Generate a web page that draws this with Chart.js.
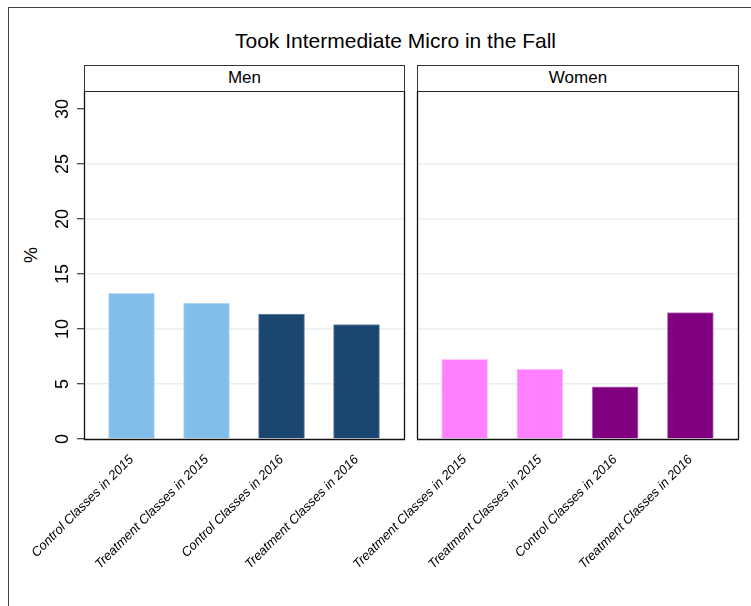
<!DOCTYPE html>
<html>
<head>
<meta charset="utf-8">
<script src="https://cdn.jsdelivr.net/npm/chart.js@4.4.1/dist/chart.umd.min.js"></script>
<style>
  html, body { margin: 0; padding: 0; background: #fff; }
  body { width: 751px; height: 606px; position: relative; overflow: hidden; font-family: "Liberation Sans", Arial, sans-serif; }
  #frame { position: absolute; left: 8px; top: 7px; width: 800px; height: 700px; border-left: 1px solid #444; border-top: 1px solid #444; }
  #title { position: absolute; left: 95px; width: 601px; top: 28px; text-align: center; font-size: 21px; color: #000; line-height: 26px; }
  .hdr { position: absolute; top: 65px; height: 25px; border: 1px solid #333; border-bottom: none; text-align: center; font-size: 17px; line-height: 23px; color: #000; box-sizing: content-box; }
  #ylab { position: absolute; left: 21px; top: 245px; width: 20px; height: 20px; font-size: 18px; line-height: 20px; text-align: center; transform: rotate(-90deg); color: #000; }
  canvas { position: absolute; }
</style>
</head>
<body>
<div id="frame"></div>
<div id="title">Took Intermediate Micro in the Fall</div>
<div class="hdr" id="hMen" style="left:84px; width:319px;">Men</div>
<div class="hdr" id="hWomen" style="left:417px; width:320px;">Women</div>
<div id="ylab">%</div>
<div style="position:absolute;left:84px;top:91px;width:321px;height:1px;background:#222"></div>
<div style="position:absolute;left:417px;top:91px;width:322px;height:1px;background:#222"></div>
<canvas id="cMen" width="406" height="515" style="left:0px; top:91px; width:406px; height:515px;"></canvas>
<canvas id="cWomen" width="451" height="515" style="left:300px; top:91px; width:451px; height:515px;"></canvas>
<script>
// ---- data ----
const titleText = "Took Intermediate Micro in the Fall";
const panelNames = ["Men", "Women"];
const menCategories = ["Control Classes in 2015", "Treatment Classes in 2015", "Control Classes in 2016", "Treatment Classes in 2016"];
const womenCategories = ["Treatment Classes in 2015", "Treatment Classes in 2015", "Control Classes in 2016", "Treatment Classes in 2016"];
const menValues = [13.25, 12.35, 11.35, 10.4];
const womenValues = [7.25, 6.35, 4.75, 11.5];
const yTicks = [0, 5, 10, 15, 20, 25, 30];
const menColors = ["rgb(130,190,234)", "rgb(130,190,234)", "rgb(27,70,112)", "rgb(27,70,112)"];
const menBorders = ["rgb(190,222,245)", "rgb(190,222,245)", "rgb(110,140,170)", "rgb(110,140,170)"];
const womenColors = ["rgb(255,128,255)", "rgb(255,128,255)", "rgb(128,0,128)", "rgb(128,0,128)"];
const womenBorders = ["rgb(255,200,255)", "rgb(255,200,255)", "rgb(190,120,190)", "rgb(190,120,190)"];

const Y_MAX = 348 / 11; // plot region top (page y 91) in data units
const X_PAD = 0.633;

const frameBorder = {
  id: 'frameBorder',
  afterDraw(chart) {
    const {ctx, chartArea: a} = chart;
    ctx.save();
    ctx.strokeStyle = '#111';
    ctx.lineWidth = 1.3;
    ctx.beginPath();
    ctx.moveTo(a.left + 0.5, a.top);
    ctx.lineTo(a.left + 0.5, a.bottom + 0.5);
    ctx.lineTo(a.right + 0.5, a.bottom + 0.5);
    ctx.lineTo(a.right + 0.5, a.top);
    ctx.stroke();
    ctx.restore();
  }
};

function makeChart(id, cats, vals, colors, borders, isLeft) {
  const pts = vals.map((v, i) => ({x: i, y: v}));
  return new Chart(document.getElementById(id), {
    type: 'bar',
    data: {
      datasets: [{
        data: pts,
        backgroundColor: colors,
        borderColor: borders,
        borderWidth: 1,
        barThickness: 46,
        borderSkipped: 'bottom'
      }]
    },
    options: {
      responsive: false,
      animation: false,
      devicePixelRatio: 1,
      layout: { padding: { left: 0, right: isLeft ? 2 : 13, top: 0, bottom: 0 } },
      plugins: { legend: { display: false }, tooltip: { enabled: false } },
      scales: {
        x: {
          type: 'linear',
          offset: false,
          min: -X_PAD,
          max: cats.length - 1 + X_PAD,
          afterBuildTicks: s => { s.ticks = cats.map((c, i) => ({value: i})); },
          afterFit: s => { s.height = 167; s.paddingLeft = 0; s.paddingRight = 0; },
          grid: { display: false, drawTicks: false, offset: false },
          border: { display: false },
          ticks: {
            autoSkip: false,
            minRotation: 45,
            maxRotation: 45,
            padding: 13,
            color: '#000',
            font: { family: '"Liberation Sans", Arial, sans-serif', size: 13, style: 'italic' },
            callback: v => cats[v]
          }
        },
        y: {
          min: 0,
          max: Y_MAX,
          afterBuildTicks: s => { s.ticks = yTicks.map(v => ({value: v})); },
          afterFit: s => { s.width = isLeft ? 84 : 117; s.paddingTop = 0; s.paddingBottom = 0; },
          border: { display: false },
          grid: {
            color: c => (c.tick && c.tick.value > 0 && c.tick.value < 30) ? 'rgb(232,240,242)' : 'rgba(0,0,0,0)',
            lineWidth: 1.5,
            drawTicks: isLeft,
            tickLength: 7,
            tickColor: '#111',
            tickWidth: 1
          },
          ticks: {
            display: isLeft,
            autoSkip: false,
            minRotation: 90,
            maxRotation: 90,
            crossAlign: 'center',
            padding: 4,
            color: '#000',
            font: { family: '"Liberation Sans", Arial, sans-serif', size: 18 }
          }
        }
      }
    },
    plugins: [frameBorder]
  });
}

makeChart('cMen', menCategories, menValues, menColors, menBorders, true);
makeChart('cWomen', womenCategories, womenValues, womenColors, womenBorders, false);
</script>
</body>
</html>
